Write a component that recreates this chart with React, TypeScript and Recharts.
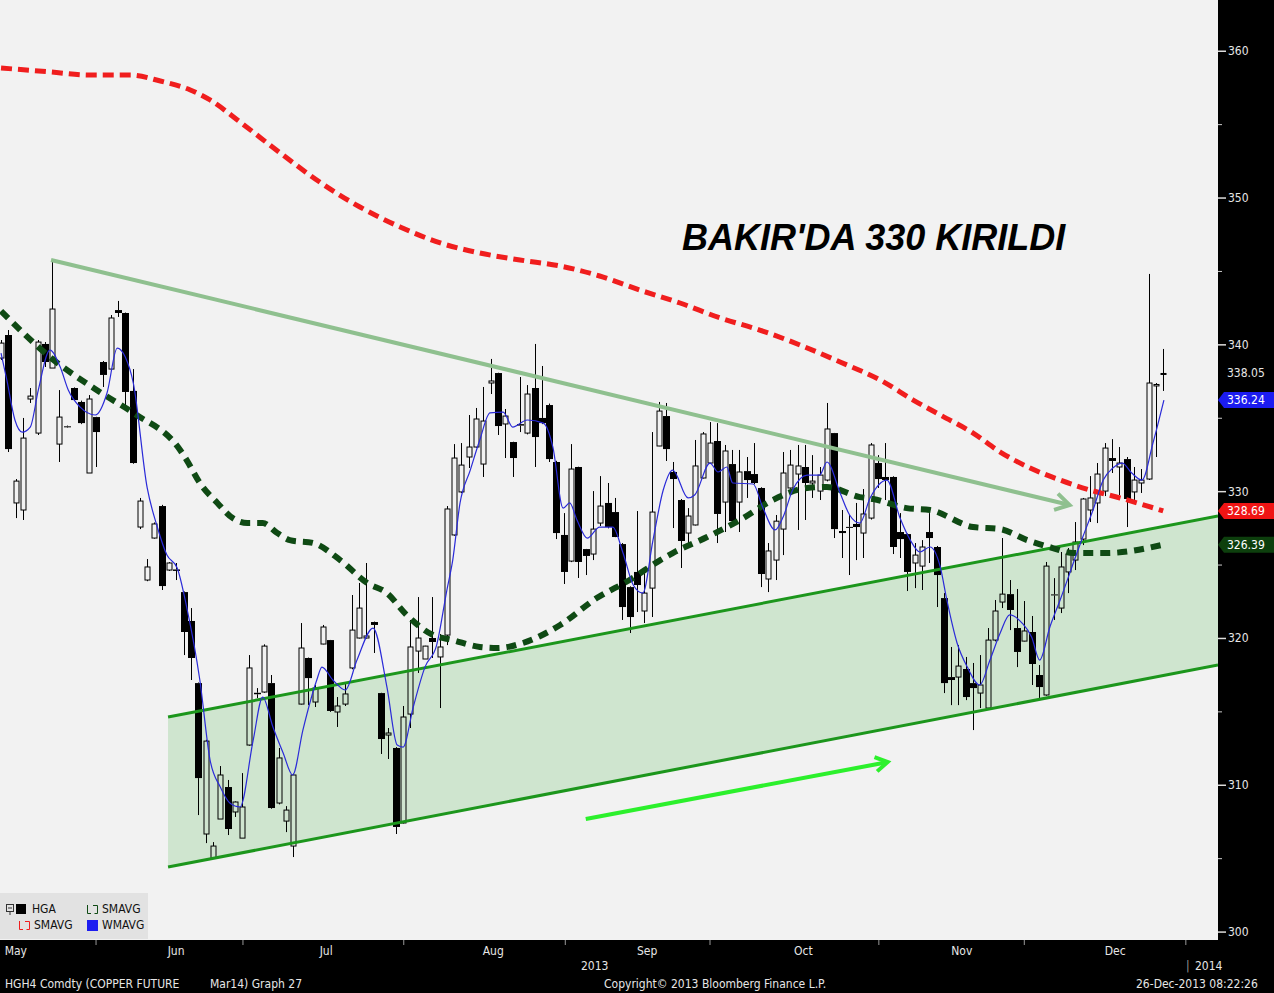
import React from "react";
import {
  ComposedChart,
  Bar,
  Line,
  Area,
  XAxis,
  YAxis,
  CartesianGrid,
  ReferenceLine,
} from "recharts";

// daily candles, May 1 .. Dec 24 2013 : [open, high, low, close]
const ohlc: [number, number, number, number][] = [
  [339.1, 340.33, 338.97, 340.12], [340.67, 341.01, 332.7, 332.9], [329.23, 330.86, 328.2, 330.72],
  [328.75, 335.02, 328.07, 333.65], [336.31, 337.06, 336.04, 336.51], [333.99, 340.33, 333.86, 340.19],
  [340.06, 340.19, 338.49, 338.83], [338.42, 345.78, 338.42, 342.44], [333.24, 336.92, 332.02, 335.08],
  [334.45, 334.5, 334.35, 334.4], [337.06, 337.1, 336.2, 336.24], [336.11, 336.2, 334.6, 334.67],
  [331.27, 336.58, 331.27, 336.31], [335.08, 335.1, 331.68, 334.06], [338.83, 338.9, 337.13, 337.95],
  [338.35, 342.03, 338.3, 341.83], [342.37, 342.99, 341.9, 342.17], [342.17, 342.2, 335.9, 336.79],
  [336.86, 338.35, 331.9, 331.95], [327.59, 329.57, 327.45, 329.36], [323.98, 325.41, 323.9, 324.87],
  [326.84, 327.9, 326.8, 327.8], [329.02, 329.1, 323.3, 323.57], [324.66, 325.2, 324.6, 325.14],
  [324.7, 325.14, 323.98, 324.6], [323.16, 323.2, 318.87, 320.44], [321.19, 322.07, 317.17, 318.67],
  [316.96, 317.0, 307.97, 310.49], [306.68, 313.1, 306.06, 313.01], [305.04, 306.13, 305.0, 305.86],
  [307.7, 311.31, 307.7, 310.7], [309.88, 310.36, 306.61, 307.02], [308.18, 308.9, 307.84, 308.86],
  [306.4, 310.83, 306.4, 308.52], [312.74, 318.87, 312.7, 317.99], [316.3, 316.62, 315.94, 316.2],
  [316.35, 319.6, 316.3, 319.48], [316.96, 317.51, 308.4, 308.45], [308.79, 312.54, 308.7, 311.86],
  [307.56, 308.58, 306.81, 308.31], [305.86, 310.8, 305.11, 310.7], [315.53, 321.05, 315.5, 319.35],
  [318.67, 318.7, 315.46, 317.3], [315.67, 316.83, 315.33, 316.62], [319.62, 320.92, 319.6, 320.78],
  [319.89, 319.9, 315.0, 315.06], [314.99, 316.01, 313.97, 315.4], [315.53, 316.96, 315.4, 316.22],
  [317.99, 322.96, 317.9, 320.57], [320.03, 323.78, 320.0, 322.07], [320.03, 325.14, 320.0, 320.17],
  [321.12, 321.15, 319.01, 320.92], [316.28, 316.3, 312.13, 313.15], [313.42, 313.9, 311.79, 313.56],
  [312.54, 312.6, 306.68, 307.16], [307.43, 315.4, 307.4, 314.65], [314.85, 321.26, 313.9, 319.42],
  [319.14, 322.82, 317.65, 320.03], [318.6, 319.5, 318.6, 319.48], [320.03, 322.82, 318.67, 319.76],
  [318.74, 320.3, 315.26, 319.42], [320.23, 329.02, 319.55, 328.82], [327.05, 333.24, 327.0, 332.29],
  [329.98, 333.31, 329.9, 331.81], [332.36, 335.22, 331.61, 333.04], [333.04, 335.7, 333.0, 334.95],
  [331.88, 337.13, 331.0, 334.81], [337.4, 339.04, 336.65, 337.54], [338.08, 338.1, 333.86, 334.47],
  [334.61, 335.63, 332.29, 335.15], [333.38, 333.4, 331.0, 332.29], [334.6, 337.81, 334.06, 334.5],
  [333.99, 337.26, 333.9, 336.65], [337.06, 340.06, 331.68, 333.72], [335.02, 338.56, 334.6, 334.67],
  [335.9, 336.0, 332.02, 332.22], [332.02, 332.1, 326.77, 327.18], [327.05, 328.54, 323.71, 324.53],
  [325.27, 333.24, 325.2, 331.54], [331.68, 331.7, 324.12, 325.21], [326.09, 326.1, 324.32, 325.62],
  [325.75, 330.04, 325.34, 327.45], [327.86, 331.06, 327.66, 329.02], [329.23, 330.59, 327.5, 327.59],
  [328.61, 329.57, 326.9, 326.91], [326.43, 326.5, 321.26, 322.14], [323.5, 323.55, 320.37, 321.46],
  [324.53, 328.68, 321.8, 323.64], [321.87, 324.66, 321.05, 323.09], [323.43, 334.06, 321.46, 328.61],
  [333.11, 336.11, 333.1, 335.49], [335.15, 336.04, 332.09, 332.9], [331.34, 332.02, 327.52, 330.86],
  [329.43, 329.5, 324.8, 326.64], [327.18, 328.88, 326.36, 328.34], [327.73, 333.52, 327.7, 331.75],
  [330.93, 334.06, 330.9, 333.93], [331.95, 334.74, 331.9, 333.31], [333.45, 334.67, 326.5, 328.48],
  [329.29, 333.18, 327.25, 332.77], [331.88, 332.84, 327.9, 328.0], [329.29, 332.84, 327.25, 331.34],
  [331.4, 332.36, 329.57, 330.79], [331.2, 333.31, 330.5, 330.59], [330.25, 330.3, 323.5, 324.39],
  [324.05, 326.5, 323.16, 325.96], [325.34, 328.41, 323.98, 327.99], [327.45, 332.7, 325.68, 331.27],
  [330.25, 332.84, 330.2, 331.81], [331.2, 333.18, 327.39, 331.75], [331.68, 333.18, 328.07, 330.59],
  [330.59, 332.49, 329.57, 330.72], [330.04, 331.68, 329.43, 331.13], [330.79, 336.04, 330.7, 334.27],
  [333.99, 334.0, 326.84, 327.45], [327.32, 328.75, 325.48, 327.18], [327.6, 328.41, 324.32, 327.55],
  [327.8, 329.23, 325.34, 327.59], [327.18, 330.18, 325.48, 328.48], [328.2, 333.31, 328.1, 333.18],
  [331.95, 332.49, 330.25, 330.86], [331.0, 333.31, 329.43, 330.79], [331.0, 331.05, 325.75, 326.23],
  [327.25, 328.54, 325.48, 326.77], [327.11, 327.15, 323.23, 324.53], [325.14, 326.5, 323.43, 325.68],
  [324.93, 326.7, 323.3, 326.23], [327.25, 328.54, 325.14, 326.84], [326.23, 326.3, 322.14, 324.32],
  [322.75, 323.09, 316.28, 316.96], [317.37, 319.42, 315.46, 317.17], [317.37, 319.55, 315.46, 318.12],
  [317.92, 318.74, 315.8, 316.01], [316.96, 318.33, 313.76, 316.62], [316.28, 318.87, 315.26, 316.83],
  [315.26, 320.71, 315.2, 319.89], [319.89, 322.62, 319.8, 321.87], [322.48, 326.84, 322.07, 323.02],
  [323.02, 323.98, 320.57, 321.94], [320.71, 323.37, 318.05, 319.08], [319.82, 322.55, 319.8, 320.51],
  [320.44, 321.53, 316.83, 318.26], [317.51, 318.19, 315.94, 316.69], [316.15, 325.21, 316.1, 324.93],
  [323.0, 324.11, 321.26, 322.95], [322.07, 325.89, 321.73, 324.87], [324.53, 326.16, 323.09, 325.75],
  [325.34, 327.93, 324.66, 326.57], [326.77, 329.57, 326.36, 329.5], [328.75, 331.06, 327.93, 329.57],
  [329.23, 331.95, 327.86, 331.2], [330.04, 333.31, 329.7, 332.97], [332.29, 333.58, 331.27, 332.09],
  [331.68, 333.04, 329.77, 331.95], [332.22, 332.36, 327.59, 329.5], [329.98, 331.68, 329.43, 330.79],
  [330.59, 331.54, 329.91, 330.79], [330.86, 344.83, 330.8, 337.4], [337.2, 337.4, 332.36, 337.3],
  [338.0, 339.72, 336.86, 338.05],
];

// moving averages: [trading-day index, value]
const wmavg: [number, number][] = [
  [0, 339.44], [0.8, 337.6], [1.9, 334.88], [2.9, 334.06], [4, 334.4], [5.1, 336.92], [6.7, 339.65],
  [8.1, 338.49], [9.2, 336.92], [10.8, 335.77], [12.9, 335.22], [14.5, 336.72], [15.9, 339.78],
  [17, 339.17], [18.1, 337.4], [20, 330.25], [21.3, 327.73], [22.7, 325.68], [24.1, 324.8],
  [25.4, 322.14], [27.2, 317.17], [28.6, 311.72], [30, 309.88], [31.3, 308.79], [32.7, 308.52],
  [34.5, 313.08], [35.8, 316.01], [37.2, 313.97], [38.6, 312.2], [39.9, 310.7], [41.3, 313.76],
  [43.2, 317.17], [43.9, 318.05], [45.4, 317.17], [47.1, 316.49], [48.7, 318.53], [50.9, 320.71],
  [52.8, 316.69], [54.2, 312.74], [55, 312.6], [56.4, 315.33], [58, 318.05], [59.6, 319.55],
  [61, 323.3], [61.8, 325.34], [62.8, 329.23], [64.2, 331.47], [65.5, 333.52], [66.9, 335.36],
  [68.7, 335.42], [70, 334.4], [72, 334.88], [74.2, 334.67], [75.5, 333.04], [76.9, 328.88],
  [77.8, 329.23], [78.8, 328.07], [80.2, 326.84], [81.9, 327.59], [83.7, 327.59], [85.1, 325.82],
  [86.5, 323.64], [87.8, 323.09], [89.2, 326.7], [90.6, 330.11], [91.9, 331.47], [94, 329.57],
  [94.9, 329.77], [97, 331.95], [98.1, 331.34], [99.3, 331.68], [100.1, 330.59], [102.9, 330.52],
  [104.2, 328.95], [105.9, 327.39], [107, 328.27], [108.3, 330.11], [110.3, 331.13], [112, 331.13],
  [113, 332.02], [114.8, 329.91], [116.1, 328.41], [117.5, 327.86], [118.9, 329.57], [121.2, 330.79],
  [123, 328.2], [124.4, 326.7], [125.7, 325.89], [127.1, 326.23], [128.5, 324.87], [129.4, 322.62],
  [130.8, 319.69], [132.2, 318.05], [133.9, 316.83], [135.3, 318.53], [136.7, 320.37], [138, 321.6],
  [139.7, 321.05], [141, 320.1], [142.1, 318.53], [143.5, 320.78], [144.9, 322.62], [147.2, 325.82],
  [148, 326.91], [149.4, 328.75], [150.8, 330.79], [152.1, 331.61], [153.4, 331.95], [154.7, 331.27],
  [156.1, 330.79], [157.6, 333.31], [159.1, 336.24],
];

const smavgGreen: [number, number][] = [
  [0, 342.3], [6.7, 339.17], [13.5, 336.79], [18.1, 335.36], [24.5, 332.84], [25.4, 332.15],
  [27.2, 330.59], [29.6, 329.23], [31.7, 328.2], [33.7, 327.86], [35.8, 327.86], [37.8, 327.18],
  [39.5, 326.7], [42.7, 326.5], [46.4, 325.34], [50.1, 323.78], [52.8, 323.09], [55.5, 321.6],
  [59.1, 320.23], [61.8, 319.89], [65.5, 319.42], [67.9, 319.35], [71.4, 319.69], [76.5, 320.92],
  [81.5, 322.75], [86, 323.98], [90.2, 325.34], [91.9, 325.82], [96.6, 326.91], [101.1, 328.07],
  [105.6, 329.43], [110.3, 330.25], [113, 330.32], [117.5, 329.63], [119.3, 329.5], [123.9, 328.88],
  [127.1, 328.75], [133, 327.59], [136.7, 327.45], [140.4, 326.7], [143.9, 326.16], [146.7, 325.82],
  [151.3, 325.82], [159, 326.39],
];

const smavgRed: [number, number][] = [
  [0, 358.86], [6.7, 358.59], [12.2, 358.38], [17.7, 358.38], [21.8, 357.97], [25.9, 357.36],
  [28.6, 356.68], [32.7, 355.18], [38.2, 353.07], [43.6, 351.09], [49.1, 349.39], [54.6, 348.03],
  [60.1, 346.94], [65.5, 346.26], [71, 345.78], [76.5, 345.37], [81.9, 344.69], [87.4, 343.73],
  [92.9, 342.85], [98.4, 341.83], [103.8, 341.01], [109.3, 339.99], [114.8, 338.83], [120.3, 337.6],
  [124.8, 336.24], [128.5, 335.22], [133, 333.99], [136.7, 332.7], [140.8, 331.61], [144.9, 330.79],
  [149, 330.11], [153.1, 329.57], [159, 328.69],
];

// hand-drawn channel and trend lines: [index, price]
const channelLow: [number, number][] = [[22.85, 304.43], [166.5, 318.19]];
const channelHigh: [number, number][] = [[22.85, 314.65], [166.5, 328.34]];
const trendLine: [number, number][] = [[6.84, 345.78], [146.2, 329.09]];
const upArrow: [number, number][] = [[80.0, 307.7], [121.3, 311.58]];

const monthStarts = [0.5, 22.8, 43.6, 65.9, 87, 108.5, 130, 151];
const monthNames = ["May", "Jun", "Jul", "Aug", "Sep", "Oct", "Nov", "Dec"];
const midMonths = [13, 33.1, 55.1, 77.2, 97, 120.1, 140, 162.1];

const priceTicks = [300, 305, 310, 315, 320, 325, 330, 335, 340, 345, 350, 355, 360];
const lastPrice = 338.05;
const lastWmavg = 336.24;
const lastRed = 328.69;
const lastGreen = 326.39;

const candles = ohlc.map(([o, h, l, c], i) => ({ i, o, h, l, c, range: [l, h] }));
const toPts = (arr: [number, number][]) => arr.map(([i, v]) => ({ i, v }));
const channelData = channelLow.map(([i, lo], k) => ({ i, r: [lo, channelHigh[k][1]] }));

const FONT = "'DejaVu Sans Condensed', 'DejaVu Sans', sans-serif";

const Candle = (props: any) => {
  const { x, y, width, height, payload } = props;
  if (x == null || !payload) return null;
  const { o, h, l, c } = payload;
  const span = h - l || 0.0001;
  const top = Math.min(y, y + height);
  const hh = Math.abs(height);
  const py = (p: number) => top + ((h - p) / span) * hh;
  const cx = Math.round(x + width / 2) + 0.5;
  const up = c >= o;
  const bt = py(Math.max(o, c));
  const bh = Math.max(py(Math.min(o, c)) - bt, 1);
  return (
    <g>
      <line x1={cx} x2={cx} y1={py(h)} y2={bt} stroke="#000" strokeWidth={1} />
      <line x1={cx} x2={cx} y1={bt + bh} y2={py(l)} stroke="#000" strokeWidth={1} />
      {up ? (
        <rect x={cx - 2.5} y={bt} width={5} height={bh} fill="none" stroke="#000" strokeWidth={1} />
      ) : (
        <rect x={cx - 3.5} y={bt} width={7} height={bh} fill="#000" />
      )}
    </g>
  );
};

const arrowShape = (color: string, w: number, head: number) => (props: any) => {
  const { x1, y1, x2, y2 } = props;
  const a = Math.atan2(y2 - y1, x2 - x1);
  const bx = x2 - head * Math.cos(a);
  const by = y2 - head * Math.sin(a);
  const px = -Math.sin(a) * head * 0.6;
  const py = Math.cos(a) * head * 0.6;
  return (
    <g>
      <line x1={x1} y1={y1} x2={x2 - 2 * Math.cos(a)} y2={y2 - 2 * Math.sin(a)} stroke={color} strokeWidth={w} />
      <polyline
        points={`${bx + px},${by + py} ${x2},${y2} ${bx - px},${by - py}`}
        fill="none"
        stroke={color}
        strokeWidth={w}
        strokeLinejoin="miter"
      />
    </g>
  );
};

const MonthTick = (props: any) => {
  const { x, y, payload } = props;
  const k = monthStarts.indexOf(payload.value);
  if (k >= 0) {
    return (
      <text x={x} y={y + 15} fill="#e6e6e6" fontSize={12} fontFamily={FONT}>
        {monthNames[k]}
      </text>
    );
  }
  return <line x1={x} x2={x} y1={y} y2={y + 5} stroke="#999" strokeWidth={1} />;
};

const badge = (y: number, color: string, label: string) => (
  <g>
    <polygon points={`1218,${y} 1224,${y - 8} 1274,${y - 8} 1274,${y + 8} 1224,${y + 8}`} fill={color} />
    <text x={1227} y={y + 4} fill="#fff" fontSize={12} fontFamily={FONT}>
      {label}
    </text>
  </g>
);

const PriceTick = (props: any) => {
  const { y, payload } = props;
  const v = payload.value;
  if (v === lastPrice)
    return (
      <text x={1227} y={y + 4} fill="#e6e6e6" fontSize={12} fontFamily={FONT}>
        {v.toFixed(2)}
      </text>
    );
  if (v === lastWmavg) return badge(y, "#1c1cf0", v.toFixed(2));
  if (v === lastRed) return badge(y, "#f01414", v.toFixed(2));
  if (v === lastGreen) return badge(y, "#0d3f0d", v.toFixed(2));
  if (v % 10 === 0)
    return (
      <g>
        <line x1={1218} x2={1226} y1={y} y2={y} stroke="#ddd" strokeWidth={1.5} />
        <text x={1228} y={y + 4} fill="#e6e6e6" fontSize={12} fontFamily={FONT}>
          {v}
        </text>
      </g>
    );
  return <line x1={1218} x2={1222} y1={y} y2={y} stroke="#ccc" strokeWidth={1} />;
};

const txt = (left: number, top: number, s: string, extra: any = {}) => (
  <div
    style={{
      position: "absolute",
      left,
      top,
      color: "#e6e6e6",
      fontSize: 12,
      fontFamily: FONT,
      whiteSpace: "pre",
      lineHeight: "14px",
      ...extra,
    }}
  >
    {s}
  </div>
);

const Bracket = ({ color }: { color: string }) => (
  <svg width={13} height={11} style={{ verticalAlign: "middle" }}>
    <path d="M1.5 1 V9.5 H5 M7 1.5 H11.5 V9.5 H8.5" fill="none" stroke={color} strokeWidth={1} />
  </svg>
);

const lineProps = { dot: false, activeDot: false, isAnimationActive: false, legendType: "none" as const };

export default function App() {
  return (
    <div style={{ position: "absolute", left: 0, top: 0, width: 1274, height: 993, background: "#000", overflow: "hidden" }}>
      <ComposedChart width={1274} height={993} data={candles} margin={{ top: 0, right: 0, left: 0, bottom: 0 }}>
        <CartesianGrid horizontal={false} vertical={false} fill="#f2f2f2" />
        <XAxis
          dataKey="i"
          type="number"
          domain={[-0.14, 166.5]}
          allowDataOverflow
          ticks={[...monthStarts, ...midMonths].sort((a, b) => a - b)}
          interval={0}
          height={53}
          axisLine={false}
          tickLine={false}
          tickSize={0}
          tickMargin={0}
          tick={<MonthTick />}
        />
        <YAxis
          orientation="right"
          type="number"
          domain={[299.46, 363.49]}
          allowDataOverflow
          ticks={[...priceTicks, lastPrice, lastWmavg, lastRed, lastGreen]}
          interval={0}
          width={56}
          axisLine={false}
          tickLine={false}
          tickSize={0}
          tickMargin={0}
          tick={<PriceTick />}
        />
        <Area
          data={channelData}
          dataKey="r"
          type="linear"
          fill="#cfe5cf"
          fillOpacity={1}
          stroke="none"
          {...lineProps}
        />
        <Bar dataKey="range" barSize={7} shape={<Candle />} isAnimationActive={false} />
        <Line data={toPts(channelHigh)} dataKey="v" type="linear" stroke="#1c961c" strokeWidth={3} {...lineProps} />
        <Line data={toPts(channelLow)} dataKey="v" type="linear" stroke="#1c961c" strokeWidth={3} {...lineProps} />
        <Line data={toPts(smavgRed)} dataKey="v" type="monotone" stroke="#f01e1e" strokeWidth={5} strokeDasharray="11 6" {...lineProps} />
        <Line data={toPts(smavgGreen)} dataKey="v" type="monotone" stroke="#0f4a14" strokeWidth={6} strokeDasharray="10 7" {...lineProps} />
        <Line data={toPts(wmavg)} dataKey="v" type="monotone" stroke="#2a2ad8" strokeWidth={1.2} {...lineProps} />
        <ReferenceLine
          segment={trendLine.map(([x, y]) => ({ x, y }))}
          ifOverflow="visible"
          shape={arrowShape("#8fc08f", 4, 14)}
        />
        <ReferenceLine
          segment={upArrow.map(([x, y]) => ({ x, y }))}
          ifOverflow="visible"
          shape={arrowShape("#2cf02c", 4, 12)}
        />
      </ComposedChart>

      <div
        style={{
          position: "absolute",
          left: 682,
          top: 217,
          fontFamily: "'Liberation Sans', Arial, sans-serif",
          fontWeight: "bold",
          fontStyle: "italic",
          fontSize: 36,
          color: "#000",
          whiteSpace: "pre",
        }}
      >
        BAKIR'DA 330 KIRILDI
      </div>

      <div
        style={{
          position: "absolute",
          left: 0,
          top: 893,
          width: 148,
          height: 46,
          background: "#e2e2e2",
          fontFamily: FONT,
          fontSize: 12,
          color: "#111",
        }}
      >
        <div style={{ position: "absolute", left: 6, top: 9, display: "flex", alignItems: "center" }}>
          <svg width={9} height={11}>
            <rect x={0.5} y={0.5} width={7} height={7} fill="none" stroke="#333" />
            <line x1={2} x2={6} y1={4} y2={4} stroke="#333" />
            <line x1={4} x2={4} y1={8} y2={11} stroke="#333" />
          </svg>
          <span style={{ display: "inline-block", width: 10, height: 10, background: "#000", marginLeft: 1 }} />
          <span style={{ marginLeft: 6 }}>HGA</span>
        </div>
        <div style={{ position: "absolute", left: 86, top: 9, display: "flex", alignItems: "center" }}>
          <Bracket color="#0f4a14" />
          <span style={{ marginLeft: 3 }}>SMAVG</span>
        </div>
        <div style={{ position: "absolute", left: 18, top: 25, display: "flex", alignItems: "center" }}>
          <Bracket color="#f01e1e" />
          <span style={{ marginLeft: 3 }}>SMAVG</span>
        </div>
        <div style={{ position: "absolute", left: 87, top: 25, display: "flex", alignItems: "center" }}>
          <span style={{ display: "inline-block", width: 11, height: 11, background: "#1c1cf0" }} />
          <span style={{ marginLeft: 4 }}>WMAVG</span>
        </div>
      </div>

      {txt(581, 959, "2013")}
      {txt(1186, 959, "|", { color: "#999" })}
      {txt(1195, 959, "2014")}
      {txt(5, 977, "HGH4 Comdty (COPPER FUTURE")}
      {txt(210, 977, "Mar14) Graph 27")}
      {txt(604, 977, "Copyright\u00a9 2013 Bloomberg Finance L.P.")}
      {txt(1136, 977, "26-Dec-2013 08:22:26")}
    </div>
  );
}
